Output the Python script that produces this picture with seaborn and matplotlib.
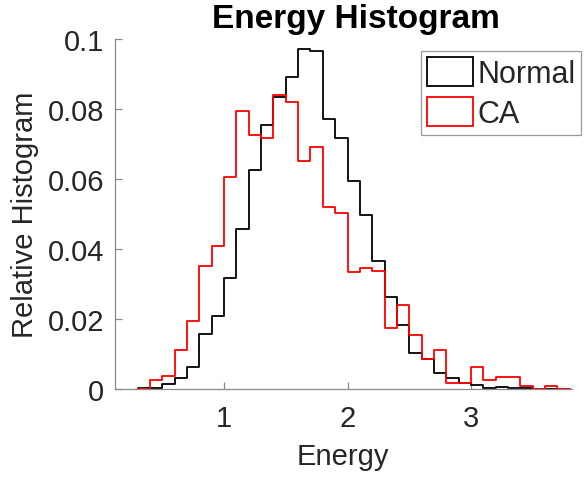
import numpy as np
import pandas as pd
import matplotlib
matplotlib.use("Agg")
import matplotlib.pyplot as plt
import seaborn as sns
from matplotlib.patches import Patch

# ---- data (relative histogram, bin width 0.1) ----
bin_left = [0.3, 0.4, 0.5, 0.6, 0.7, 0.8, 0.9, 1.0, 1.1, 1.2, 1.3, 1.4,
            1.5, 1.6, 1.7, 1.8, 1.9, 2.0, 2.1, 2.2, 2.3, 2.4, 2.5, 2.6,
            2.7, 2.8, 2.9, 3.0, 3.1, 3.2, 3.3, 3.4, 3.5, 3.6, 3.7]
bin_width = 0.1
normal = [0.0002, 0.0003, 0.0015, 0.0032, 0.0062, 0.0157, 0.0208, 0.0317,
          0.0457, 0.0626, 0.0754, 0.0835, 0.0890, 0.0971, 0.0966, 0.0771,
          0.0716, 0.0593, 0.0498, 0.0365, 0.0262, 0.0184, 0.0104, 0.0086,
          0.0047, 0.0031, 0.0016, 0.0010, 0.0004, 0.0005, 0.0002, 0.0002,
          0.0001, 0.0001, 0.0001]
ca = [0.0, 0.0026, 0.0036, 0.0110, 0.0194, 0.0352, 0.0409, 0.0606,
      0.0793, 0.0727, 0.0717, 0.0839, 0.0821, 0.0650, 0.0690, 0.0521,
      0.0504, 0.0334, 0.0345, 0.0336, 0.0174, 0.0240, 0.0154, 0.0086,
      0.0112, 0.0016, 0.0016, 0.0064, 0.0026, 0.0035, 0.0035, 0.0008,
      0.0, 0.0008, 0.0]
series_names = ["Normal", "CA"]
series_colors = ["black", "#ff0000"]
x_ticks = [1, 2, 3]
y_ticks = [0, 0.02, 0.04, 0.06, 0.08, 0.1]
y_tick_labels = ["0", "0.02", "0.04", "0.06", "0.08", "0.1"]

edges = [float(v) for v in np.append(np.array(bin_left), bin_left[-1] + bin_width)]
centers = np.array(bin_left) + bin_width / 2
df = pd.DataFrame({
    "Energy": np.concatenate([centers, centers]),
    "weight": normal + ca,
    "group": ["Normal"] * len(normal) + ["CA"] * len(ca),
})

sns.set_style("white")
plt.rcParams["font.family"] = ["Liberation Sans", "DejaVu Sans"]

fig = plt.figure(figsize=(5.87, 4.81), dpi=100)
ax = fig.add_axes([0.1959, 0.18919, 0.7780, 0.72765])

for name, col in zip(series_names, series_colors):
    sub = df[df["group"] == name].reset_index(drop=True)
    sns.histplot(data=sub, x="Energy", weights="weight",
                 bins=edges, element="step", fill=False, color=col,
                 linewidth=1.3, ax=ax)

ax.set_xlim(0.117, 3.815)
ax.set_ylim(0, 0.1)
ax.set_xticks(x_ticks)
ax.set_xticklabels([str(t) for t in x_ticks])
ax.set_yticks(y_ticks)
ax.set_yticklabels(y_tick_labels)

spine_col = "#8a8a8a"
for s in ["top", "right"]:
    ax.spines[s].set_visible(False)
for s in ["left", "bottom"]:
    ax.spines[s].set_color(spine_col)
    ax.spines[s].set_linewidth(0.9)
ax.tick_params(axis="both", which="major", bottom=True, left=True,
               top=False, right=False, direction="in", length=5, width=0.9,
               color=spine_col, labelsize=21, labelcolor="#262626")
ax.tick_params(axis="y", pad=8)
ax.tick_params(axis="x", pad=11)

ax.set_xlabel("Energy", fontsize=21, color="#262626", labelpad=7)
ax.set_ylabel("Relative Histogram", fontsize=21, color="#262626", labelpad=6)

fig.text(0.607, 0.941, "Energy Histogram", ha="center", va="baseline",
         fontsize=24, fontweight="bold", color="black")

handles = [Patch(facecolor="white", edgecolor=c, linewidth=1.3) for c in series_colors]
leg = ax.legend(handles, series_names, loc="upper right",
                bbox_to_anchor=(0.9893, 0.8913), bbox_transform=fig.transFigure,
                borderaxespad=0, fontsize=22, frameon=True, fancybox=False,
                framealpha=1, edgecolor="#9a9a9a", borderpad=0.18,
                labelspacing=0.28, handletextpad=0.12, handlelength=1.52,
                handleheight=1.08)
leg.get_frame().set_linewidth(0.9)

fig.savefig("out.png", dpi=100)
